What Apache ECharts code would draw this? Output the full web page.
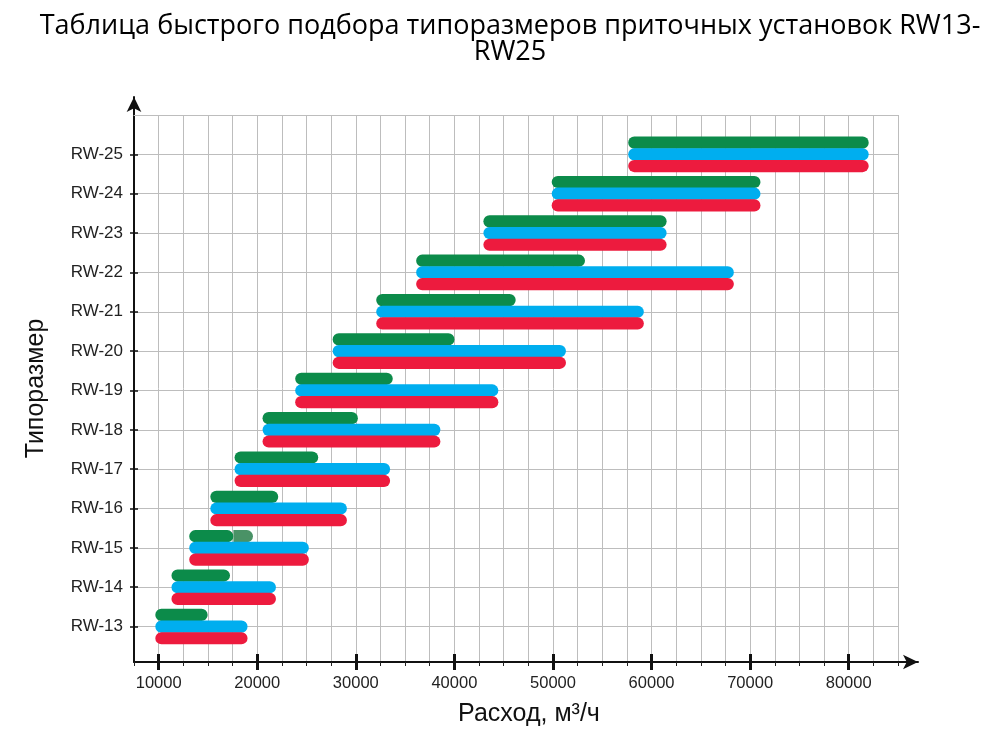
<!DOCTYPE html>
<html>
<head>
<meta charset="utf-8">
<script src="https://cdn.jsdelivr.net/npm/echarts@6/dist/echarts.min.js"></script>
<style>
  html, body { margin: 0; padding: 0; background: #fff; }
  #chart { width: 1004px; height: 731px; }
</style>
</head>
<body>
<div id="chart"></div>
<script>
// sizes RW-13 .. RW-25
var rows = ['RW-13', 'RW-14', 'RW-15', 'RW-16', 'RW-17', 'RW-18', 'RW-19', 'RW-20', 'RW-21', 'RW-22', 'RW-23', 'RW-24', 'RW-25'];
var rowNums = [13, 14, 15, 16, 17, 18, 19, 20, 21, 22, 23, 24, 25];
// air flow ranges, m3/h
var starts    = [9660, 11300, 13100, 15240, 17700, 20540, 23850, 27650, 32070, 36120, 42940, 49870, 57630];
var greenEnds = [14970, 17240, 17580, 22130, 26190, 30210, 33750, 40010, 46220, 53250, 61530, 71050, 82030];
var blueEnds  = [19020, 21900, 25240, 29100, 33480, 38580, 44460, 51320, 59220, 68350, 61530, 71050, 82030];
var redEnds   = [19020, 21900, 25240, 29100, 33480, 38580, 44460, 51320, 59220, 68350, 61530, 71050, 82030];
// faded tail on the RW-15 green bar
var paleGreen = [['RW-15', 17580, 19570]];
var xMajor = [10000, 20000, 30000, 40000, 50000, 60000, 70000, 80000];

function rangeData(ends) {
  return rows.map(function (r, i) { return [starts[i], ends[i], rowNums[i]]; });
}

function barRenderer(lane, roundLeft) {
  return function (params, api) {
    var p0 = api.coord([api.value(0), api.value(2)]);
    var p1 = api.coord([api.value(1), api.value(2)]);
    var band = api.size([0, 1])[1];
    var h = band * 0.31;
    var cy = p0[1] + lane * band * 0.297;
    var r = h / 2;
    return {
      type: 'rect',
      shape: { x: p0[0], y: cy - h / 2, width: p1[0] - p0[0], height: h, r: roundLeft ? r : [0, r, r, 0] },
      style: { fill: api.visual('color') }
    };
  };
}

var chart = echarts.init(document.getElementById('chart'));
var font = '"Liberation Sans", Arial, sans-serif';
var gridColor = '#bdbdbd';

chart.setOption({
  animation: false,
  title: {
    text: 'Таблица быстрого подбора типоразмеров приточных установок RW13-\nRW25',
    left: 505, top: 8, textAlign: 'center',
    textStyle: { fontFamily: '"Open Sans", sans-serif', fontSize: 27, fontWeight: 'normal', color: '#000', lineHeight: 26 }
  },
  grid: [
    { left: 134, right: 106, top: 115, bottom: 69, outerBoundsMode: 'none', containLabel: false },
    { left: 134, right: 86, top: 97, bottom: 69, outerBoundsMode: 'none', containLabel: false }
  ],
  xAxis: [
    {
      type: 'value', gridIndex: 0, min: 7500, max: 85000, interval: 2500,
      axisLine: { show: false },
      axisTick: { show: true, length: 4, lineStyle: { color: '#222', width: 1 } },
      axisLabel: {
        customValues: xMajor, margin: 13, fontFamily: font, fontSize: 16.5, color: '#222',
        formatter: function (v) { return String(v); }
      },
      splitLine: { show: true, lineStyle: { color: gridColor, width: 1 } },
      name: 'Расход, м³/ч', nameLocation: 'middle', nameGap: 40,
      nameTextStyle: { fontFamily: font, fontSize: 25, color: '#111', padding: [0, 0, 0, 26] }
    },
    {
      type: 'value', gridIndex: 0, min: 7500, max: 85000, position: 'bottom',
      axisLine: { show: false }, axisLabel: { show: false }, splitLine: { show: false },
      axisTick: { show: true, customValues: xMajor, length: 8, lineStyle: { color: '#111', width: 3 } }
    },
    {
      type: 'value', gridIndex: 0, min: 7500, max: 85000, position: 'bottom',
      axisLine: { show: false }, axisLabel: { show: false }, splitLine: { show: false },
      axisTick: { show: true, inside: true, customValues: xMajor, length: 8, lineStyle: { color: '#111', width: 3 } }
    },
    {
      type: 'value', gridIndex: 0, min: 7500, max: 85000, position: 'top',
      axisLine: { show: true, lineStyle: { color: gridColor, width: 1 } },
      axisTick: { show: false }, axisLabel: { show: false }, splitLine: { show: false }
    },
    {
      type: 'value', gridIndex: 1, min: 0, max: 1,
      axisLine: { show: true, symbol: ['none', 'arrow'], symbolSize: [11, 15], lineStyle: { color: '#111', width: 2 } },
      axisTick: { show: false }, axisLabel: { show: false }, splitLine: { show: false }
    }
  ],
  yAxis: [
    {
      type: 'value', gridIndex: 0, min: 12.1, max: 26,
      axisLine: { show: false },
      axisTick: { show: true, customValues: rowNums, length: 4, lineStyle: { color: '#111', width: 1.5 } },
      axisLabel: {
        customValues: rowNums, margin: 11, fontFamily: font, fontSize: 17, color: '#222',
        formatter: function (v) { return rows[rowNums.indexOf(v)]; }
      },
      splitLine: { show: true, lineStyle: { color: gridColor, width: 1 } },
      name: 'Типоразмер', nameLocation: 'middle', nameGap: 85,
      nameTextStyle: { fontFamily: font, fontSize: 25, color: '#111' }
    },
    {
      type: 'value', gridIndex: 0, min: 12.1, max: 26, position: 'left',
      axisLine: { show: false }, axisLabel: { show: false }, splitLine: { show: false },
      axisTick: { show: true, inside: true, customValues: rowNums, length: 4, lineStyle: { color: '#111', width: 1.5 } }
    },
    {
      type: 'value', gridIndex: 1, min: 0, max: 1,
      axisLine: { show: true, symbol: ['none', 'arrow'], symbolSize: [11, 15], lineStyle: { color: '#111', width: 2 } },
      axisTick: { show: false }, axisLabel: { show: false }, splitLine: { show: false }
    }
  ],
  series: [
    {
      name: 'green', type: 'custom', xAxisIndex: 0, yAxisIndex: 0, color: '#0c8b4a',
      encode: { x: [0, 1], y: 2 }, renderItem: barRenderer(-1, true), data: rangeData(greenEnds)
    },
    {
      name: 'greenPale', type: 'custom', xAxisIndex: 0, yAxisIndex: 0, color: '#4a9266',
      encode: { x: [0, 1], y: 2 }, renderItem: barRenderer(-1, false),
      data: paleGreen.map(function (d) { return [d[1], d[2], rowNums[rows.indexOf(d[0])]]; })
    },
    {
      name: 'blue', type: 'custom', xAxisIndex: 0, yAxisIndex: 0, color: '#00aeef',
      encode: { x: [0, 1], y: 2 }, renderItem: barRenderer(0, true), data: rangeData(blueEnds)
    },
    {
      name: 'red', type: 'custom', xAxisIndex: 0, yAxisIndex: 0, color: '#ed1b3e',
      encode: { x: [0, 1], y: 2 }, renderItem: barRenderer(1, true), data: rangeData(redEnds)
    }
  ]
});
</script>
</body>
</html>
